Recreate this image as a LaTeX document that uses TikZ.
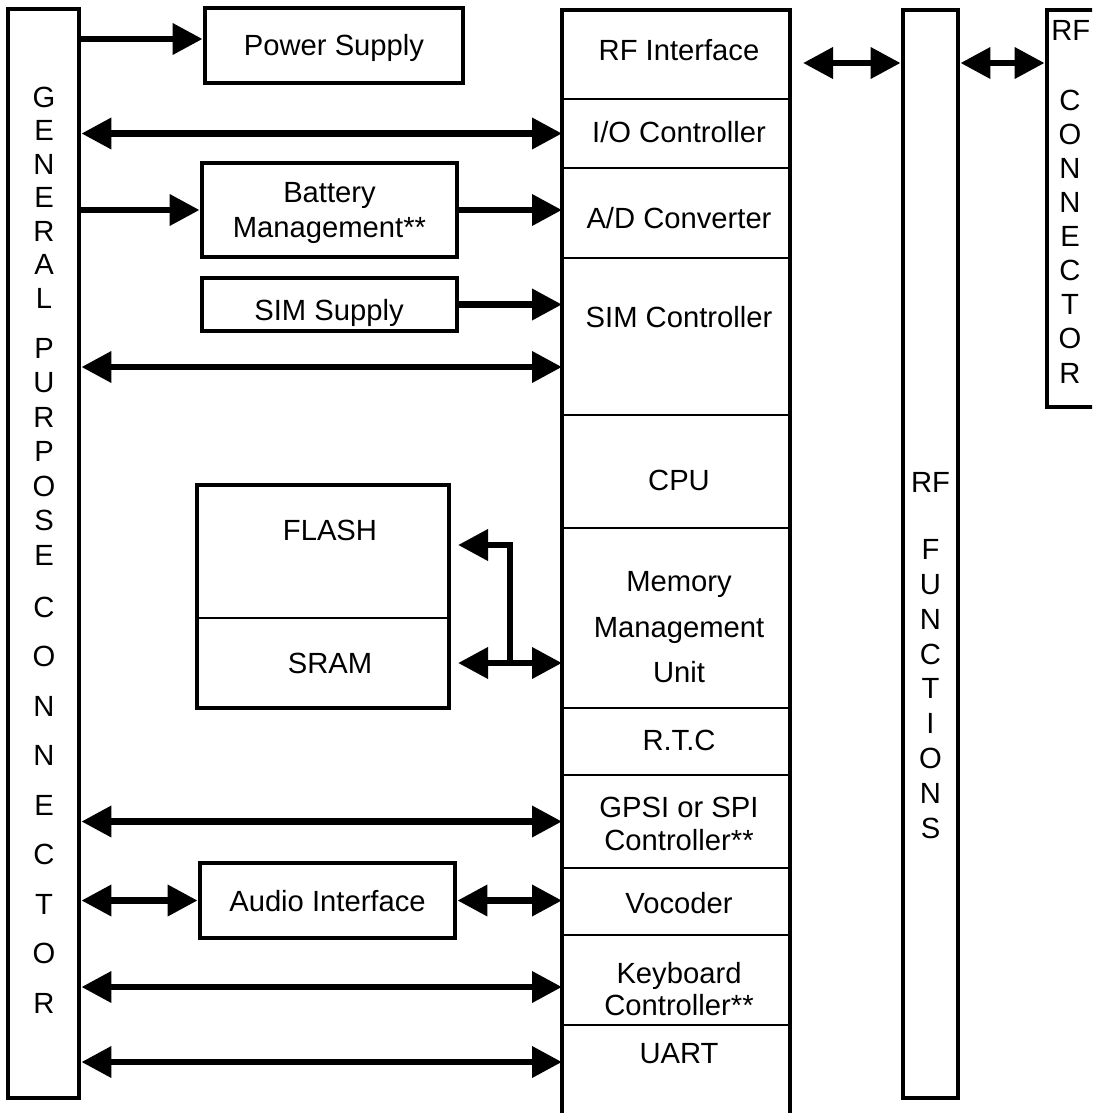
\documentclass[tikz,border=0pt]{standalone}
\usepackage{fontspec}
\setmainfont{Liberation Sans}
\usetikzlibrary{arrows.meta, positioning}
\tikzset{
	blk/.style={rectangle, draw=black, line width=2.4pt, inner sep=0pt},
	cell/.style={rectangle, draw=black, line width=0.8pt, inner sep=0pt, outer sep=0pt, minimum width=114pt},
	lbl/.style={inner sep=0pt, text height=10.5pt, text depth=0pt},
	stack/.style={inner sep=0pt, align=center},
	onearrow/.style={-{Triangle[length=15pt, width=15pt]}, line width=3.4pt},
	twoarrow/.style={{Triangle[length=15pt, width=15pt]}-{Triangle[length=15pt, width=15pt]}, line width=3.4pt},
}

\begin{document}
\begin{tikzpicture}[x=0.5pt, y=-0.5pt, font=\fontsize{14.6pt}{17.5pt}\selectfont]
	\useasboundingbox (0,0) rectangle (1092,1113);
	\clip (0,0) rectangle (1092,1113);
	% connectors at both sides
	\node[blk, minimum width=35.5pt, minimum height=544.5pt] (gpc) at (43.5,553.5) {};
	\node[blk, minimum width=27.5pt, minimum height=544pt] (rffunc) at (930.5,554) {};
	\node[blk, minimum width=28pt, minimum height=198.5pt] (rfconn) at (1075,208.5) {};
	\node[stack, font=\fontsize{14.6pt}{16.75pt}\selectfont] (t-gen) at (44,197.5) {G\\E\\N\\E\\R\\A\\L};
	\node[stack, font=\fontsize{14.6pt}{17.25pt}\selectfont] (t-pur) at (44,451.5) {P\\U\\R\\P\\O\\S\\E};
	\node[stack, font=\fontsize{14.6pt}{24.75pt}\selectfont] (t-con) at (44,805) {C\\O\\N\\N\\E\\C\\T\\O\\R};
	\node[stack, font=\fontsize{14.6pt}{17.4pt}\selectfont] (t-rff) at (930.5,655.5) {RF\\[16pt]F\\U\\N\\C\\T\\I\\O\\N\\S};
	\node[lbl, anchor=west] (t-rfc-top) at (1051,30) {RF};
	\node[stack, font=\fontsize{14.6pt}{17.05pt}\selectfont] (t-rfc) at (1070,236.5) {C\\O\\N\\N\\E\\C\\T\\O\\R};
	% blocks on the left
	\node[blk, lbl, minimum width=129pt, minimum height=37.5pt] (psu) at (334,45.5) {Power Supply};
	\node[blk, align=center, text depth=0pt, minimum width=127.5pt, minimum height=47pt] (batt) at (329.5,210) {Battery\\Management**};
	\node[blk, minimum width=127.5pt, minimum height=26.5pt] (simsup) at (329.5,304.5) {};
	\node[lbl] (t-simsup) at (329,310) {SIM Supply};
	\node[cell, minimum width=126pt, minimum height=66.5pt] (flash) at (323,551.5) {};
	\node[cell, minimum width=126pt, minimum height=45pt, below=0pt of flash] (sram) {};
	\draw[line width=2.4pt] (flash.north west) rectangle (sram.south east);
	\node[lbl] (t-flash) at (330,530) {FLASH};
	\node[lbl] (t-sram) at (330,663) {SRAM};
	\node[blk, lbl, minimum width=127.5pt, minimum height=37.5pt] (audio) at (327.5,900.5) {Audio Interface};
	% baseband column
	\node[cell, minimum height=44.5pt] (rfif) at (676,54.5) {};
	\node[cell, minimum height=34.5pt, below=0pt of rfif] (ioctl) {};
	\node[cell, minimum height=45pt, below=0pt of ioctl] (adc) {};
	\node[cell, minimum height=78.5pt, below=0pt of adc] (simctl) {};
	\node[cell, minimum height=56.5pt, below=0pt of simctl] (cpu) {};
	\node[cell, minimum height=90pt, below=0pt of cpu] (mmu) {};
	\node[cell, minimum height=33.5pt, below=0pt of mmu] (rtc) {};
	\node[cell, minimum height=46.5pt, below=0pt of rtc] (spi) {};
	\node[cell, minimum height=33.5pt, below=0pt of spi] (vocoder) {};
	\node[cell, minimum height=45pt, below=0pt of vocoder] (kbd) {};
	\node[cell, minimum height=52.5pt, below=0pt of kbd] (uart) {};
	\draw[line width=2.4pt] (rfif.north west) rectangle (uart.south east);
	\node[lbl] (t-rfif) at (679,50) {RF Interface};
	\node[lbl] (t-io) at (679,132) {I/O Controller};
	\node[lbl] (t-adc) at (679,218) {A/D Converter};
	\node[lbl] (t-sim) at (679,317) {SIM Controller};
	\node[lbl] (t-cpu) at (679,480) {CPU};
	\node[stack, font=\fontsize{14.6pt}{22.75pt}\selectfont] (t-mmu) at (679,627.5) {Memory\\Management\\Unit};
	\node[lbl] (t-rtc) at (679,740) {R.T.C};
	\node[stack, font=\fontsize{14.6pt}{16.5pt}\selectfont] (t-spi) at (679,823.5) {GPSI or SPI\\Controller**};
	\node[lbl] (t-voc) at (679,903) {Vocoder};
	\node[stack, font=\fontsize{14.6pt}{16pt}\selectfont] (t-kbd) at (679,989) {Keyboard\\Controller**};
	\node[lbl] (t-uart) at (679,1053) {UART};
	% rows for the arrows
	\coordinate (psurow) at (0,39);
	\coordinate (gprow) at (0,367);
	\coordinate (flashrow) at (0,545);
	\coordinate (kbdrow) at (0,987);
	\coordinate (uartrow) at (0,1062);
	\coordinate (rfrow) at (0,63);
	\coordinate (bus) at (510,0);
	\draw[onearrow] (gpc.east |- psurow) -- (psu.west |- psurow);
	\draw[twoarrow] (gpc.east |- ioctl.west) -- (ioctl.west);
	\draw[onearrow] (gpc.east |- batt.west) -- (batt.west);
	\draw[onearrow] (batt.east) -- (batt.east -| adc.west);
	\draw[onearrow] (simsup.east) -- (simsup.east -| simctl.west);
	\draw[twoarrow] (gpc.east |- gprow) -- (simctl.west |- gprow);
	\draw[twoarrow, shorten <=4.5pt] (sram.east) -- (sram.east -| mmu.west);
	\draw[onearrow, shorten >=4.5pt] (bus |- sram.east) |- (flash.east |- flashrow);
	\draw[twoarrow] (gpc.east |- spi.west) -- (spi.west);
	\draw[twoarrow] (gpc.east |- audio.west) -- (audio.west);
	\draw[twoarrow] (audio.east) -- (audio.east -| vocoder.west);
	\draw[twoarrow] (gpc.east |- kbdrow) -- (kbd.west |- kbdrow);
	\draw[twoarrow] (gpc.east |- uartrow) -- (uart.west |- uartrow);
	\draw[twoarrow, shorten <=6.5pt] (rfif.east |- rfrow) -- (rffunc.west |- rfrow);
	\draw[twoarrow] (rffunc.east |- rfrow) -- (rfconn.west |- rfrow);
\end{tikzpicture}
\end{document}
